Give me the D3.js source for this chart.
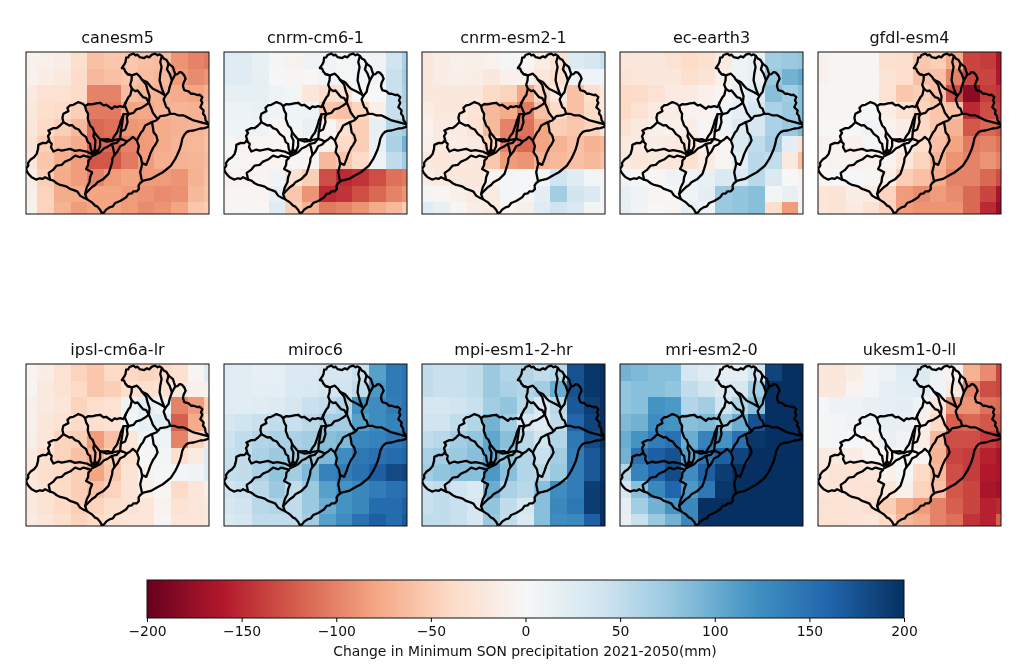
<!DOCTYPE html>
<html><head><meta charset="utf-8">
<script src="https://cdn.jsdelivr.net/npm/d3@7/dist/d3.min.js"></script>
<style>html,body{margin:0;padding:0;background:#fff}svg{display:block;filter:blur(0.5px)}text{font-family:"DejaVu Sans",sans-serif;fill:#111}</style>
</head><body><svg id="c" width="1016" height="667"></svg>
<script>
const models=["canesm5","cnrm-cm6-1","cnrm-esm2-1","ec-earth3","gfdl-esm4","ipsl-cm6a-lr","miroc6","mpi-esm1-2-hr","mri-esm2-0","ukesm1-0-ll"];
const canesm5=[[-8,-10,-15,-35,-60,-55,-55,-60,-62,-90,-100,-105],[-8,-14,-20,-38,-65,-60,-55,-62,-65,-85,-95,-90],[-18,-30,-30,-38,-100,-100,-62,-68,-70,-75,-80,-70],[-22,-35,-38,-50,-105,-105,-80,-78,-70,-68,-70,-62],[-25,-40,-50,-65,-115,-110,-88,-85,-75,-70,-68,-62],[-28,-50,-62,-75,-115,-115,-100,-85,-75,-68,-66,-60],[-25,-55,-72,-85,-125,-125,-105,-85,-72,-70,-68,-62],[-15,-50,-75,-85,-100,-85,-80,-85,-85,-90,-70,-60],[-12,-45,-75,-75,-80,-80,-85,-90,-95,-92,-65,-58],[-10,-45,-70,-85,-80,-80,-85,-95,-90,-80,-55,-50]];
const cnrmCm6=[[25,25,15,3,-8,8,8,5,8,8,40,65],[25,25,18,2,-5,-2,6,3,6,8,45,70],[18,18,18,10,5,-25,-35,-30,-5,0,45,65],[12,12,14,8,10,10,-55,-60,-45,-12,45,60],[6,10,8,-4,5,15,-5,-30,-50,18,60,70],[4,-8,-5,-5,4,-3,-10,-40,-50,15,65,95],[-3,-5,-6,-4,-3,-5,-65,-55,-40,10,50,70],[-8,-8,-6,8,-30,-50,-130,-150,-145,-130,-110,-105],[-3,-4,-4,15,-55,-90,-150,-145,-130,-115,-100,-90],[-3,-3,-2,25,-50,-70,-105,-100,-90,-75,-65,-50]];
const cnrmEsm=[[-22,-15,-10,-12,-8,3,-5,-15,-30,28,35,45],[-22,-15,-12,-15,-22,-10,-8,-25,-35,12,8,6],[-22,-22,-22,-22,-40,-45,-80,-45,-20,-60,-35,-20],[-15,-22,-22,-28,-65,-75,-105,-60,-40,-60,-40,-20],[-8,-18,-18,-30,-65,-100,-110,-80,-50,-55,-45,-25],[-10,-18,-15,-18,-45,-100,-115,-80,-70,-60,-70,-65],[-20,-25,-22,-22,-55,-85,-90,-70,-65,-60,-65,-60],[-15,-20,-22,-22,-8,4,2,5,40,25,5,-5],[5,-5,-12,-18,-18,4,4,20,70,38,30,5],[25,15,-5,-15,-18,-5,-12,25,40,30,5,-5]];
const ecEarth=[[-25,-22,-22,-30,-38,-32,-18,10,15,70,75,80],[-28,-25,-22,-22,-32,-28,-12,10,15,75,95,105],[-40,-38,-30,-18,-18,-10,-5,15,25,85,70,85],[-40,-30,-18,-15,-8,-8,8,20,35,65,75,85],[-30,-20,-12,-10,-15,-3,8,30,35,65,75,90],[-20,-20,-15,-18,-25,-10,-3,30,50,70,20,-30],[-20,-25,-22,-25,-32,-18,-5,20,55,50,-20,-60],[8,3,-3,8,8,15,30,30,55,30,0,-8],[15,8,-3,-2,10,20,75,80,85,5,15,-5],[15,6,0,-5,15,10,75,80,85,-35,-85,-8]];
const gfdl=[[-8,-5,-5,-5,-32,-35,-55,-50,-75,-135,-140,-165],[-8,-5,-5,-5,-28,-35,-60,-60,-100,-135,-135,-160],[-5,-5,-5,-5,-30,-55,-50,-60,-130,-180,-140,-145],[-4,-4,-3,3,-15,-30,-45,-55,-60,-150,-130,-140],[-2,-2,2,6,-8,-15,-40,-55,-70,-125,-115,-125],[-8,-8,-10,3,-8,-10,-35,-60,-80,-105,-100,-110],[-5,-8,-10,-8,-8,-25,-45,-70,-90,-100,-90,-100],[-4,2,2,-4,-15,-50,-60,-75,-100,-100,-115,-130],[-25,-28,-15,-18,-45,-85,-95,-85,-95,-115,-135,-165],[-25,-28,-18,-30,-45,-85,-90,-90,-90,-115,-150,-175]];
const ipsl=[[-5,-15,-30,-45,-55,-40,-42,-45,-42,-32,-5,25],[-5,-20,-30,-40,-55,-50,-35,-35,-30,-22,-10,-10],[-10,-20,-25,-45,-35,-30,10,20,12,-100,-85,-50],[-10,-25,-30,-40,-35,-30,5,15,25,-120,-75,-30],[-12,-25,-45,-50,-85,-60,-25,8,10,-100,-45,-25],[-18,-35,-45,-60,-75,-50,-35,-3,5,-35,-18,25],[-25,-35,-40,-50,-80,-55,-30,-8,3,5,8,25],[-20,-30,-40,-50,-60,-45,-28,-12,-5,-40,-25,-15],[-20,-30,-40,-50,-45,-35,-30,-25,-8,-30,-25,-20],[-18,-25,-35,-45,-40,-30,-25,-25,-5,-25,-25,-20]];
const miroc=[[25,22,18,18,30,30,35,35,45,110,142,148],[25,22,20,20,30,32,38,40,50,115,142,148],[25,22,25,28,35,45,50,60,120,125,140,148],[35,40,45,50,45,55,70,70,110,125,135,148],[42,50,60,65,65,70,85,90,130,135,145,152],[45,50,65,75,70,75,90,125,145,150,155,160],[48,50,65,80,70,90,135,140,150,165,180,185],[40,45,55,75,50,75,110,120,130,140,150,155],[35,40,55,60,50,75,100,120,130,155,155,165],[30,35,50,50,50,70,110,125,150,165,155,170]];
const mpi=[[50,45,45,50,75,60,60,50,55,175,195,200],[50,45,45,50,75,65,60,70,100,175,195,200],[35,35,40,45,70,80,55,30,55,170,190,200],[40,40,50,60,95,70,35,25,50,160,185,200],[50,55,70,80,105,85,55,40,60,145,180,200],[65,70,75,85,105,80,60,45,70,140,170,195],[70,80,85,85,115,85,60,55,75,140,170,195],[45,50,40,30,100,65,55,85,125,140,190,200],[45,50,45,35,80,50,35,85,130,145,190,200],[50,50,45,35,75,50,30,85,125,130,165,200]];
const mri=[[95,90,85,85,35,25,20,20,40,185,200,200],[80,85,85,80,50,40,30,35,70,200,200,200],[80,85,120,115,60,70,40,60,85,200,200,200],[90,95,125,120,85,90,75,100,175,200,200,200],[100,120,140,150,100,135,120,150,195,200,200,200],[95,150,165,175,110,145,165,185,200,200,200,200],[60,135,160,180,125,165,190,200,200,200,200,200],[35,85,130,160,115,145,195,200,200,200,200,200],[20,70,95,120,130,200,200,200,200,200,200,200],[15,45,75,95,130,200,200,200,200,200,200,200]];
const ukesm=[[-22,-25,-15,5,12,25,28,10,-8,-70,-95,-135],[-22,-22,-6,5,18,22,25,10,-20,-100,-130,-135],[2,12,12,15,18,20,10,-25,-90,-90,-110,-115],[3,5,8,10,18,15,-10,-40,-120,-115,-125,-125],[3,5,2,-5,15,8,-15,-65,-130,-130,-140,-150],[-18,-20,-15,-5,-5,5,-5,-70,-135,-140,-155,-165],[-25,-30,-30,-25,-10,3,-40,-65,-130,-140,-160,-165],[-25,-28,-28,-30,-25,-10,-45,-60,-125,-135,-165,-170],[-30,-30,-28,-35,-50,-75,-85,-100,-120,-135,-155,-150],[-30,-30,-28,-25,-40,-65,-75,-100,-110,-145,-155,-120]];
const grids=[canesm5,cnrmCm6,cnrmEsm,ecEarth,gfdl,ipsl,miroc,mpi,mri,ukesm];
const colorStops=["#67001f","#b2182b","#d6604d","#f4a582","#fddbc7","#f7f7f7","#d1e5f0","#92c5de","#4393c3","#2166ac","#053061"];
const cbTicks=[-200,-150,-100,-50,0,50,100,150,200];
const cbLabel="Change in Minimum SON precipitation 2021-2050(mm)";
// Basin boundaries, in map units
const basinLines=[
[[318,97],[324,96],[328,89],[340,85],[346,90],[352,88],[358,95],[372,98],[380,93],[387,96],[395,88],[405,85],[412,90],[418,87],[425,92],[431,100],[438,103],[445,115],[452,120],[458,125],[461,135],[465,147],[472,146],[478,140],[485,142],[492,150],[496,160],[490,172],[488,182],[492,194],[505,198],[512,205],[520,205],[532,209],[538,208],[546,215],[542,225],[546,232],[540,245],[550,255],[548,264],[554,272],[556,285],[562,292],[566,303],[552,308],[540,309],[520,315],[508,316],[500,319],[492,328],[486,340],[483,355],[478,372],[470,390],[465,400],[452,420],[445,426],[428,440],[410,450],[392,460],[370,465],[360,472],[355,480],[356,490],[350,497],[340,497],[335,503],[325,505],[318,515],[310,520],[300,526],[285,532],[278,542],[268,545],[258,552],[252,560],[245,563],[240,552],[232,543],[225,540],[215,530],[207,525],[200,520],[190,516],[180,510],[172,498],[165,495],[150,490],[140,483],[130,480],[120,478],[110,473],[100,465],[90,462],[75,455],[68,460],[60,458],[48,462],[35,455],[28,448],[22,440],[18,430],[25,420],[24,412],[32,402],[42,395],[50,385],[54,370],[55,358],[68,352],[78,353],[88,345],[84,332],[90,322],[85,315],[100,308],[110,308],[120,300],[130,290],[127,277],[130,265],[145,257],[142,247],[150,240],[160,238],[175,230],[188,235],[195,242],[205,236],[215,237],[228,234],[240,232],[250,240],[258,238],[275,250],[283,243],[290,245],[300,242],[310,245],[317,230],[325,215],[330,210],[335,190],[330,178],[334,165],[335,150],[322,146],[315,138],[312,130],[305,128],[312,118],[316,110],[318,97]],
[[130,290],[148,300],[156,299],[165,308],[176,312],[185,325],[198,335],[203,350],[210,355],[212,370],[216,380]],
[[195,242],[198,255],[204,265],[203,280],[210,300],[218,308],[222,320],[220,332],[226,345],[224,372],[218,384]],
[[85,345],[95,355],[93,365],[100,378],[115,372],[125,375],[150,370],[165,376],[178,374],[200,378],[216,386]],
[[90,462],[86,442],[100,432],[110,420],[125,418],[135,408],[150,402],[165,390],[180,395],[190,390],[212,396]],
[[212,398],[205,405],[204,418],[198,430],[216,440],[210,455],[208,470],[200,485],[195,505],[200,520]],
[[195,505],[215,485],[225,478],[232,470],[250,460],[265,445],[270,430],[276,410],[277,398],[283,388],[292,378],[300,362],[312,357],[320,348],[330,342],[338,334],[350,345],[356,362],[352,380],[362,395],[366,415],[360,440],[365,465]],
[[216,392],[230,385],[240,380],[252,368],[262,364],[275,355],[279,368],[283,388]],
[[350,345],[362,322],[368,315],[375,300],[395,290],[398,305],[400,320],[408,330],[412,345],[405,358],[398,368],[390,385],[385,400],[378,418],[365,412]],
[[395,290],[408,285],[415,278],[420,272],[437,270],[450,265],[462,265],[475,270],[490,270],[500,275],[520,285],[540,290],[560,295]],
[[450,265],[445,250],[438,245],[430,222],[436,210],[445,200],[448,185],[455,165],[465,147]],
[[445,115],[440,132],[448,145],[455,165]],
[[425,92],[420,110],[424,125],[420,145],[418,165],[425,190],[432,208]],
[[322,146],[335,150],[350,145],[360,155],[365,163],[380,170],[390,182],[398,190],[418,200],[432,208],[436,210]],
[[335,190],[345,197],[352,195],[368,215],[378,218],[386,232],[388,212],[382,195],[378,178],[365,163]],
[[386,232],[372,242],[362,248],[348,252],[340,262],[325,266],[320,254],[314,240],[317,230]],
[[325,266],[320,275],[322,290],[315,312],[302,318],[306,295],[310,266],[325,266]],
[[310,266],[302,285],[298,300],[290,322],[282,332],[275,346],[265,341],[255,342],[240,342],[230,330],[222,320]],
[[240,342],[240,362],[233,378],[224,372]],
[[218,384],[233,378]],
[[240,342],[258,348],[275,346],[288,342],[300,340],[312,344],[320,348]],
[[386,232],[393,248],[398,262],[410,278],[415,278]],
[[300,340],[290,352],[275,355]],
[[302,318],[300,340]]
];

const panelW=183,panelH=162;
const colX=[26,224,422,620,818],rowY=[52,364];
const svg=d3.select("#c");
const color=d3.scaleLinear().domain(d3.range(11).map(i=>-200+40*i)).range(colorStops).clamp(true);
const defs=svg.append("defs");
defs.append("clipPath").attr("id","pc").append("rect").attr("width",panelW).attr("height",panelH);
const gx=d3.scaleLinear().domain([-0.18,10.78]).range([0,panelW]);
const gy=d3.scaleLinear().domain([-0.5,9.2]).range([0,panelH]);
const mx=d3.scaleLinear().domain([18,566]).range([0,panelW]);
const my=d3.scaleLinear().domain([80,565]).range([0,panelH]);
const line=d3.line().x(d=>mx(d[0])).y(d=>my(d[1]));
grids.forEach((grid,k)=>{
  const g=svg.append("g").attr("transform",`translate(${colX[k%5]},${rowY[Math.floor(k/5)]})`);
  const m=g.append("g").attr("clip-path","url(#pc)");
  grid.forEach((row,r)=>row.forEach((v,c)=>{
    m.append("rect").attr("x",gx(c-0.5)).attr("y",gy(r-0.5)).attr("width",gx(1)-gx(0)+0.6).attr("height",gy(1)-gy(0)+0.6).attr("fill",color(v)).attr("shape-rendering","crispEdges");
  }));
  m.selectAll("path").data(basinLines).join("path").attr("d",line).attr("fill","none").attr("stroke","#000").attr("stroke-width",2.3).attr("stroke-linejoin","round").attr("stroke-linecap","round");
  g.append("rect").attr("width",panelW).attr("height",panelH).attr("fill","none").attr("stroke","#111").attr("stroke-width",1);
  g.append("text").attr("x",panelW/2).attr("y",-9.5).attr("text-anchor","middle").attr("font-size",16).text(models[k]);
});
// Colour bar
const cb={x:147,y:580,w:757,h:38};
const cbScale=d3.scaleLinear().domain([-200,200]).range([cb.x,cb.x+cb.w]);
const grad=defs.append("linearGradient").attr("id","cbg");
colorStops.forEach((s,i)=>grad.append("stop").attr("offset",i/10).attr("stop-color",s));
svg.append("rect").attr("x",cb.x).attr("y",cb.y).attr("width",cb.w).attr("height",cb.h).attr("fill","url(#cbg)").attr("stroke","#111").attr("stroke-width",1);
const ax=d3.axisBottom(cbScale).tickValues(cbTicks).tickSize(4).tickPadding(4).tickFormat(d=>d<0?"\u2212"+(-d):d);
const ag=svg.append("g").attr("transform",`translate(0,${cb.y+cb.h})`).call(ax);
ag.select(".domain").remove();
ag.selectAll("text").attr("font-size",13.9).attr("font-family","DejaVu Sans");
svg.append("text").attr("x",cb.x+cb.w/2-0.5).attr("y",656).attr("text-anchor","middle").attr("font-size",13.9).text(cbLabel);
</script></body></html>
